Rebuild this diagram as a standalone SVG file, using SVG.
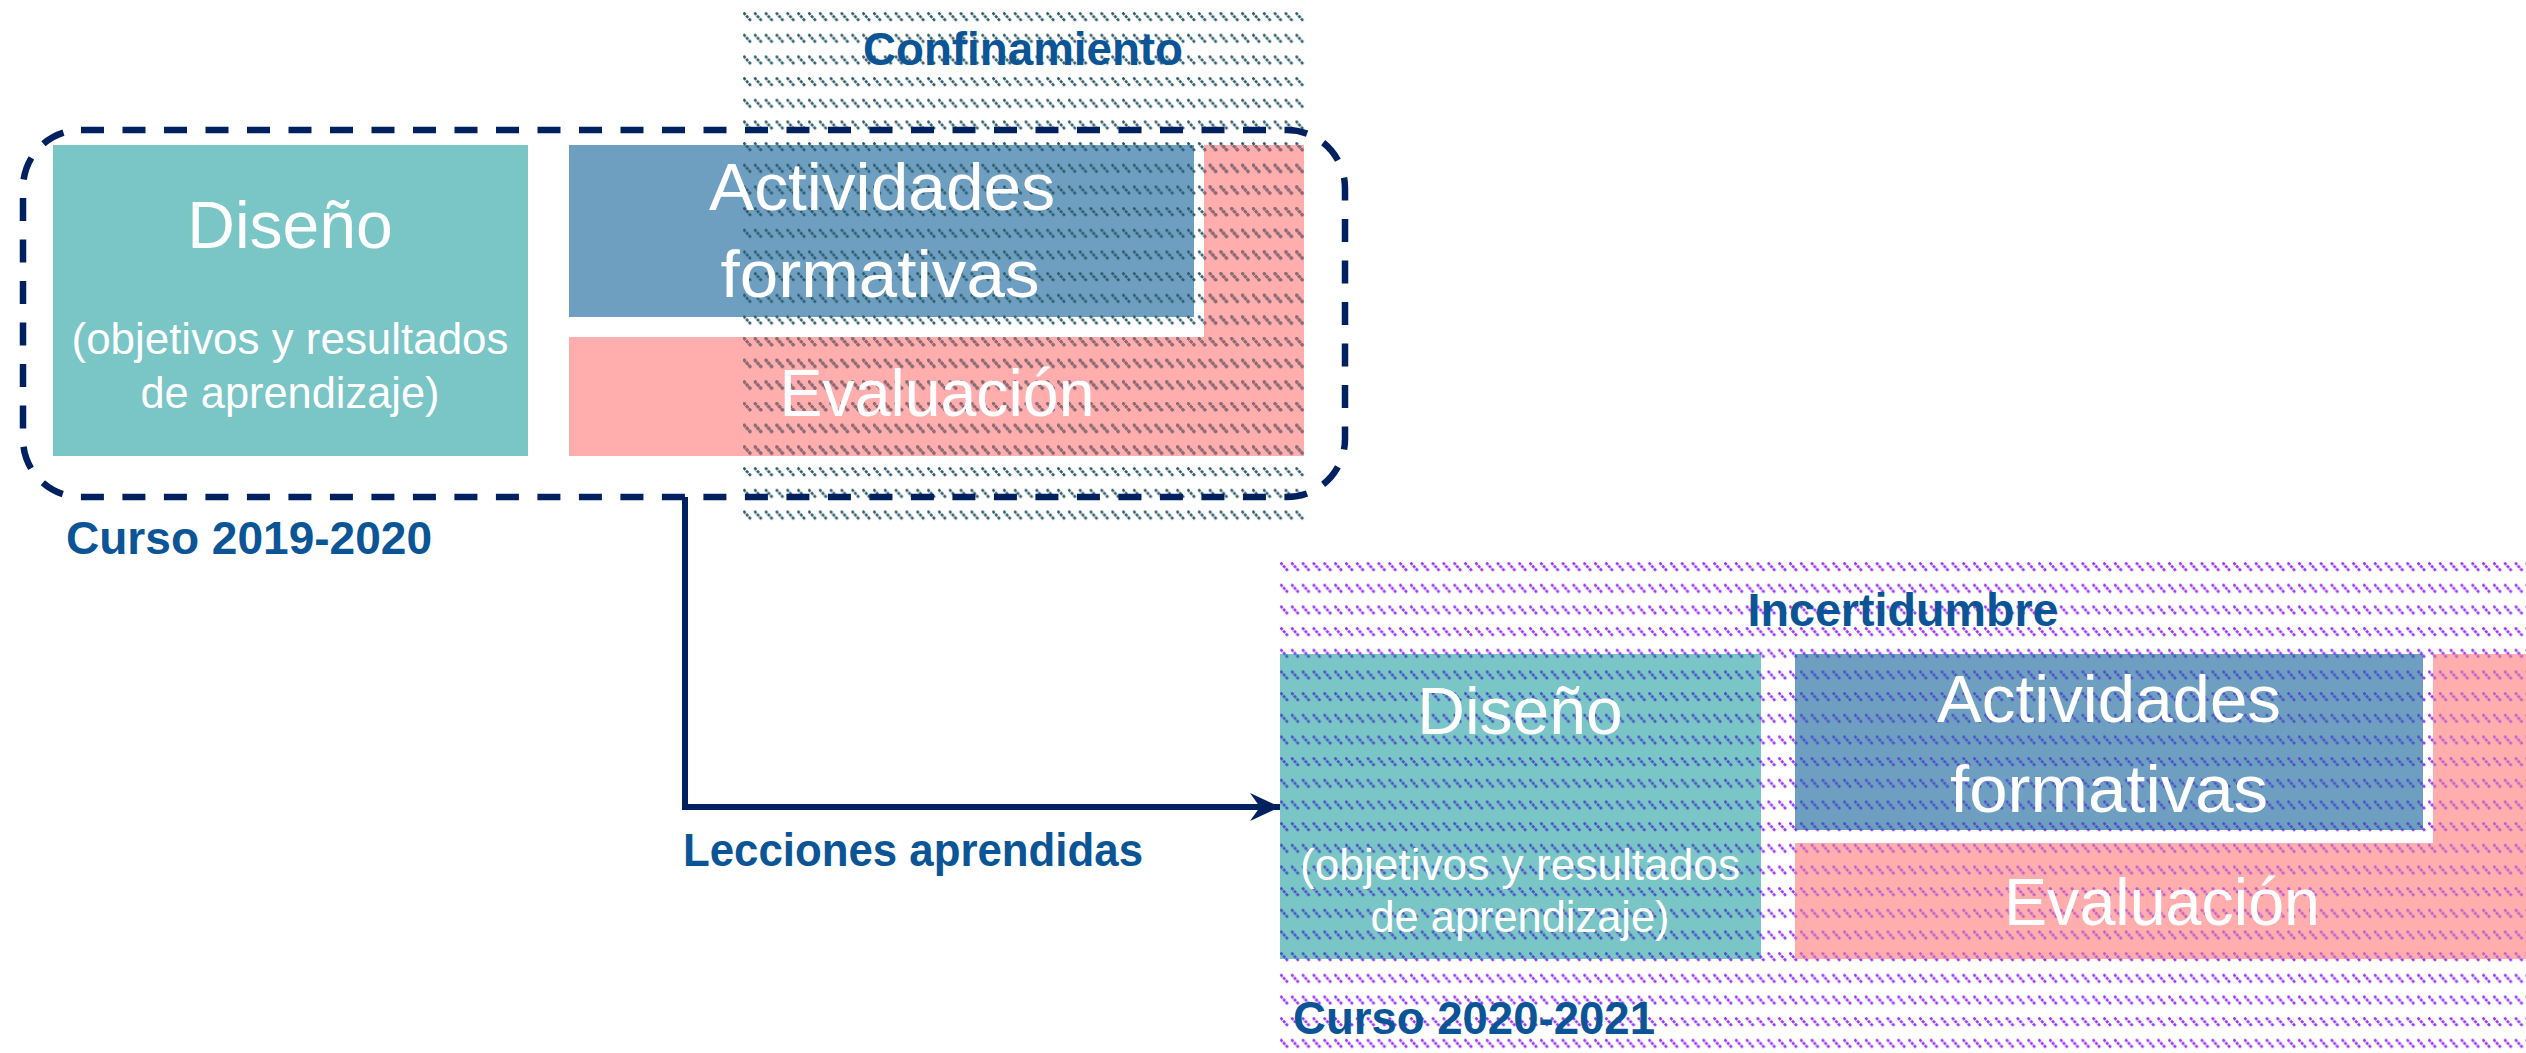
<svg xmlns="http://www.w3.org/2000/svg" width="2526" height="1053" viewBox="0 0 2526 1053">
<style>
.teal{fill:#7AC5C5}
.blue{fill:#6E9FC1}
.pink{fill:#FFADAD}
.wt{fill:#FFFFFF;font-family:"Liberation Sans",Arial,sans-serif;text-anchor:middle}
.big{font-size:66px}
.act{font-size:67px}
.sub{font-size:44px}
.lbl{fill:#0B5597;font-family:"Liberation Sans",Arial,sans-serif;font-weight:bold;font-size:46px}
.conn{fill:none;stroke:#002060;stroke-width:6}
.hm{stroke-width:2.6;stroke-dasharray:3 1}
</style>
<defs>
<pattern id="hT" patternUnits="userSpaceOnUse" x="743" y="12" width="10.83" height="21.67">
<path class="hm" d="M0.5,0.5 L8.5,9.5" stroke="#2B5B6B"/>
</pattern>
<pattern id="hTp" patternUnits="userSpaceOnUse" x="743" y="12" width="10.83" height="21.67">
<path class="hm" d="M0.5,0.5 L8.5,9.5" stroke="#9C6870"/>
</pattern>
<pattern id="hB" patternUnits="userSpaceOnUse" x="1280" y="562" width="10.83" height="21.67">
<path class="hm" d="M0.5,0.5 L8.5,9.5" stroke="#9933FF"/>
</pattern>
<pattern id="hBb" patternUnits="userSpaceOnUse" x="1280" y="562" width="10.83" height="21.67">
<path class="hm" d="M0.5,0.5 L8.5,9.5" stroke="#4A50C8"/>
</pattern>
<pattern id="hBp" patternUnits="userSpaceOnUse" x="1280" y="562" width="10.83" height="21.67">
<path class="hm" d="M0.5,0.5 L8.5,9.5" stroke="#C45CCB"/>
</pattern>
<marker id="arr" markerUnits="userSpaceOnUse" markerWidth="32" markerHeight="30" refX="30" refY="14" orient="auto">
<path d="M0,0 L30,14 L0,28 L10,14 Z" fill="#002060"/>
</marker>
</defs>
<rect width="2526" height="1053" fill="#FFFFFF"/>

<g id="curso-2019-2020">
<g id="diseno-1">
<rect class="teal" x="53" y="145" width="475" height="311"/>
</g>
<g id="actividades-1">
<rect class="blue" x="569" y="145" width="625" height="172"/>
</g>
<g id="evaluacion-1">
<path class="pink" d="M569,337 H1204 V145 H1304 V456 H569 Z"/>
</g>
<g id="confinamiento">
<rect x="743" y="10" width="562" height="520" fill="url(#hT)"/>
<path d="M1204,145 H1304 V456 H743 V337 H1204 Z" fill="url(#hTp)"/>
<text class="lbl" x="1023" y="65" text-anchor="middle" textLength="320" lengthAdjust="spacingAndGlyphs">Confinamiento</text>
</g>
<rect id="marco-2019-2020" x="23" y="130" width="1322" height="367" rx="58" ry="58" fill="none" stroke="#002060" stroke-width="6.5" stroke-dasharray="23 18.5"/>
<text class="wt big" x="290" y="248">Diseño</text>
<text class="wt sub" x="290" y="354" textLength="437" lengthAdjust="spacingAndGlyphs">(objetivos y resultados</text>
<text class="wt sub" x="290" y="408" textLength="299" lengthAdjust="spacingAndGlyphs">de aprendizaje)</text>
<text class="wt act" x="882" y="210" textLength="346" lengthAdjust="spacingAndGlyphs">Actividades</text>
<text class="wt act" x="880" y="297" textLength="319" lengthAdjust="spacingAndGlyphs">formativas</text>
<text class="wt act" x="937" y="416" textLength="315" lengthAdjust="spacingAndGlyphs">Evaluación</text>
<text class="lbl" x="66" y="554" textLength="366" lengthAdjust="spacingAndGlyphs">Curso 2019-2020</text>
</g>

<g id="connectors">
<path class="conn" d="M685,497 V807 H1280" marker-end="url(#arr)"/>
<text class="lbl" x="683" y="866" textLength="460" lengthAdjust="spacingAndGlyphs">Lecciones aprendidas</text>
</g>

<g id="curso-2020-2021">
<g id="incertidumbre">
<rect x="1280" y="562" width="1246" height="491" fill="url(#hB)"/>
<text class="lbl" x="1903" y="626" text-anchor="middle" textLength="311" lengthAdjust="spacingAndGlyphs">Incertidumbre</text>
</g>
<g id="diseno-2">
<rect class="teal" x="1280" y="654" width="481" height="305"/>
<rect x="1280" y="654" width="481" height="305" fill="url(#hBb)"/>
</g>
<g id="actividades-2">
<rect class="blue" x="1795" y="654" width="628" height="176"/>
<rect x="1795" y="654" width="628" height="176" fill="url(#hBb)"/>
</g>
<g id="evaluacion-2">
<path class="pink" d="M1795,843 H2433 V654 H2526 V959 H1795 Z"/>
<path d="M1795,843 H2433 V654 H2526 V959 H1795 Z" fill="url(#hBp)"/>
</g>
<text class="wt big" x="1520" y="734">Diseño</text>
<text class="wt sub" x="1520" y="880" textLength="440" lengthAdjust="spacingAndGlyphs">(objetivos y resultados</text>
<text class="wt sub" x="1520" y="932" textLength="299" lengthAdjust="spacingAndGlyphs">de aprendizaje)</text>
<text class="wt act" x="2109" y="722" textLength="344" lengthAdjust="spacingAndGlyphs">Actividades</text>
<text class="wt act" x="2109" y="812" textLength="318" lengthAdjust="spacingAndGlyphs">formativas</text>
<text class="wt act" x="2162" y="925" textLength="316" lengthAdjust="spacingAndGlyphs">Evaluación</text>
<text class="lbl" x="1293" y="1034" textLength="362" lengthAdjust="spacingAndGlyphs">Curso 2020-2021</text>
</g>
</svg>
